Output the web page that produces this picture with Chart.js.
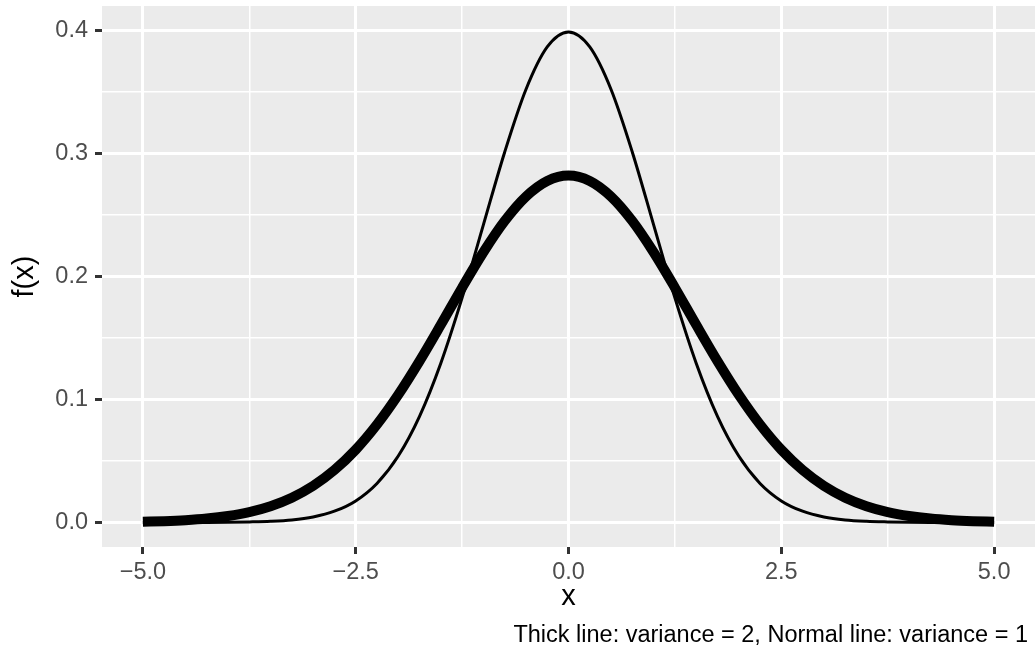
<!DOCTYPE html>
<html>
<head>
<meta charset="utf-8">
<script src="https://cdn.jsdelivr.net/npm/chart.js@4"></script>
<style>
  html, body { margin: 0; padding: 0; background: #fff; }
  #wrap { width: 1035px; height: 649px; position: relative; }
</style>
</head>
<body>
<div id="wrap"><canvas id="myChart"></canvas></div>
<script>
var xValues = [-5, -4.75, -4.5, -4.25, -4, -3.75, -3.5, -3.25, -3, -2.75, -2.5, -2.25, -2, -1.75, -1.5, -1.25, -1, -0.75, -0.5, -0.25,
    0, 0.25, 0.5, 0.75, 1, 1.25, 1.5, 1.75, 2, 2.25, 2.5, 2.75, 3, 3.25, 3.5, 3.75, 4, 4.25, 4.5, 4.75, 5];

// thin line (variance 1)
var normalLine = [0.0000, 0.0000, 0.0000, 0.0000, 0.0001, 0.0004, 0.0009, 0.0020, 0.0044, 0.0091, 0.0175, 0.0317, 0.0540, 0.0863, 0.1295, 0.1826, 0.2420, 0.3011, 0.3521, 0.3867,
    0.3989, 0.3867, 0.3521, 0.3011, 0.2420, 0.1826, 0.1295, 0.0863, 0.0540, 0.0317, 0.0175, 0.0091, 0.0044, 0.0020, 0.0009, 0.0004, 0.0001, 0.0000, 0.0000, 0.0000, 0.0000];

// thick line (variance 2)
var thickLine = [0.0005, 0.0010, 0.0018, 0.0031, 0.0052, 0.0084, 0.0132, 0.0201, 0.0297, 0.0426, 0.0591, 0.0796, 0.1038, 0.1312, 0.1607, 0.1909, 0.2197, 0.2451, 0.2650, 0.2777,
    0.2821, 0.2777, 0.2650, 0.2451, 0.2197, 0.1909, 0.1607, 0.1312, 0.1038, 0.0796, 0.0591, 0.0426, 0.0297, 0.0201, 0.0132, 0.0084, 0.0052, 0.0031, 0.0018, 0.0010, 0.0005];

var xTicks = [-5, -2.5, 0, 2.5, 5];
var xTickLabels = ['\u22125.0', '\u22122.5', '0.0', '2.5', '5.0'];
var xMinor = [-3.75, -1.25, 1.25, 3.75];
var yTicks = [0, 0.1, 0.2, 0.3, 0.4];
var yTickLabels = ['0.0', '0.1', '0.2', '0.3', '0.4'];
var yMinor = [0.05, 0.15, 0.25, 0.35];
var caption = 'Thick line: variance = 2, Normal line: variance = 1';

function toPoints(ys) {
    return xValues.map(function (x, i) { return { x: x, y: ys[i] }; });
}

function isMajor(list, v) {
    return list.some(function (m) { return Math.abs(m - v) < 1e-9; });
}

function buildTicks(major, minor) {
    return function (scale) {
        scale.ticks = major.concat(minor).sort(function (a, b) { return a - b; })
            .map(function (v) { return { value: v }; });
    };
}

var panelBg = {
    id: 'panelBg',
    beforeDraw: function (chart) {
        var a = chart.chartArea, c = chart.ctx;
        c.save();
        c.fillStyle = '#EBEBEB';
        c.fillRect(a.left, a.top, a.right - a.left, a.bottom - a.top);
        c.restore();
    }
};

var captionPlugin = {
    id: 'caption',
    afterDraw: function (chart) {
        var c = chart.ctx;
        c.save();
        c.font = '23.5px "Liberation Sans", Arial, sans-serif';
        c.fillStyle = '#000';
        c.textAlign = 'right';
        c.textBaseline = 'alphabetic';
        c.fillText(caption, chart.width - 7, 642);
        c.restore();
    }
};

var tickFont = { family: '"Liberation Sans", Arial, sans-serif', size: 23.5 };
var titleFont = { family: '"Liberation Sans", Arial, sans-serif', size: 29 };

var ctx = document.getElementById('myChart').getContext('2d');
var chart = new Chart(ctx, {
    type: 'line',
    data: {
        datasets: [{
            data: toPoints(thickLine),
            borderColor: '#000',
            borderWidth: 10,
            pointRadius: 0,
            cubicInterpolationMode: 'monotone'
        }, {
            data: toPoints(normalLine),
            borderColor: '#000',
            borderWidth: 3,
            pointRadius: 0,
            cubicInterpolationMode: 'monotone'
        }]
    },
    options: {
        responsive: true,
        maintainAspectRatio: false,
        animation: false,
        devicePixelRatio: 1,
        layout: { padding: { top: 6, right: 0, left: 0, bottom: 34.4 } },
        plugins: {
            legend: { display: false },
            tooltip: { enabled: false }
        },
        scales: {
            x: {
                type: 'linear',
                min: -5.48,
                max: 5.48,
                afterBuildTicks: buildTicks(xTicks, xMinor),
                afterFit: function (s) { s.height = 67.6; s.paddingLeft = 0; s.paddingRight = 0; },
                border: { display: false },
                grid: {
                    color: '#FFFFFF',
                    lineWidth: function (c) { return isMajor(xTicks, c.tick.value) ? 3 : 1.5; },
                    tickColor: function (c) { return isMajor(xTicks, c.tick.value) ? '#333333' : 'rgba(0,0,0,0)'; },
                    tickWidth: 3,
                    tickLength: 7
                },
                ticks: {
                    autoSkip: false,
                    maxRotation: 0,
                    padding: 4,
                    color: '#4D4D4D',
                    font: tickFont,
                    callback: function (v) {
                        var i = xTicks.findIndex(function (m) { return Math.abs(m - v) < 1e-9; });
                        return i >= 0 ? xTickLabels[i] : '';
                    }
                },
                title: { display: true, text: 'x', color: '#000', font: titleFont, padding: 0 }
            },
            y: {
                min: -0.02,
                max: 0.42,
                afterBuildTicks: buildTicks(yTicks, yMinor),
                afterFit: function (s) { s.width = 102; s.paddingTop = 0; s.paddingBottom = 0; },
                border: { display: false },
                grid: {
                    color: '#FFFFFF',
                    lineWidth: function (c) { return isMajor(yTicks, c.tick.value) ? 3 : 1.5; },
                    tickColor: function (c) { return isMajor(yTicks, c.tick.value) ? '#333333' : 'rgba(0,0,0,0)'; },
                    tickWidth: 3,
                    tickLength: 7
                },
                ticks: {
                    autoSkip: false,
                    padding: 7,
                    color: '#4D4D4D',
                    font: tickFont,
                    callback: function (v) {
                        var i = yTicks.findIndex(function (m) { return Math.abs(m - v) < 1e-9; });
                        return i >= 0 ? yTickLabels[i] : '';
                    }
                },
                title: { display: true, text: 'f(x)', color: '#000', font: titleFont, padding: { top: 7.5, bottom: 0 } }
            }
        }
    },
    plugins: [panelBg, captionPlugin]
});
</script>
</body>
</html>
